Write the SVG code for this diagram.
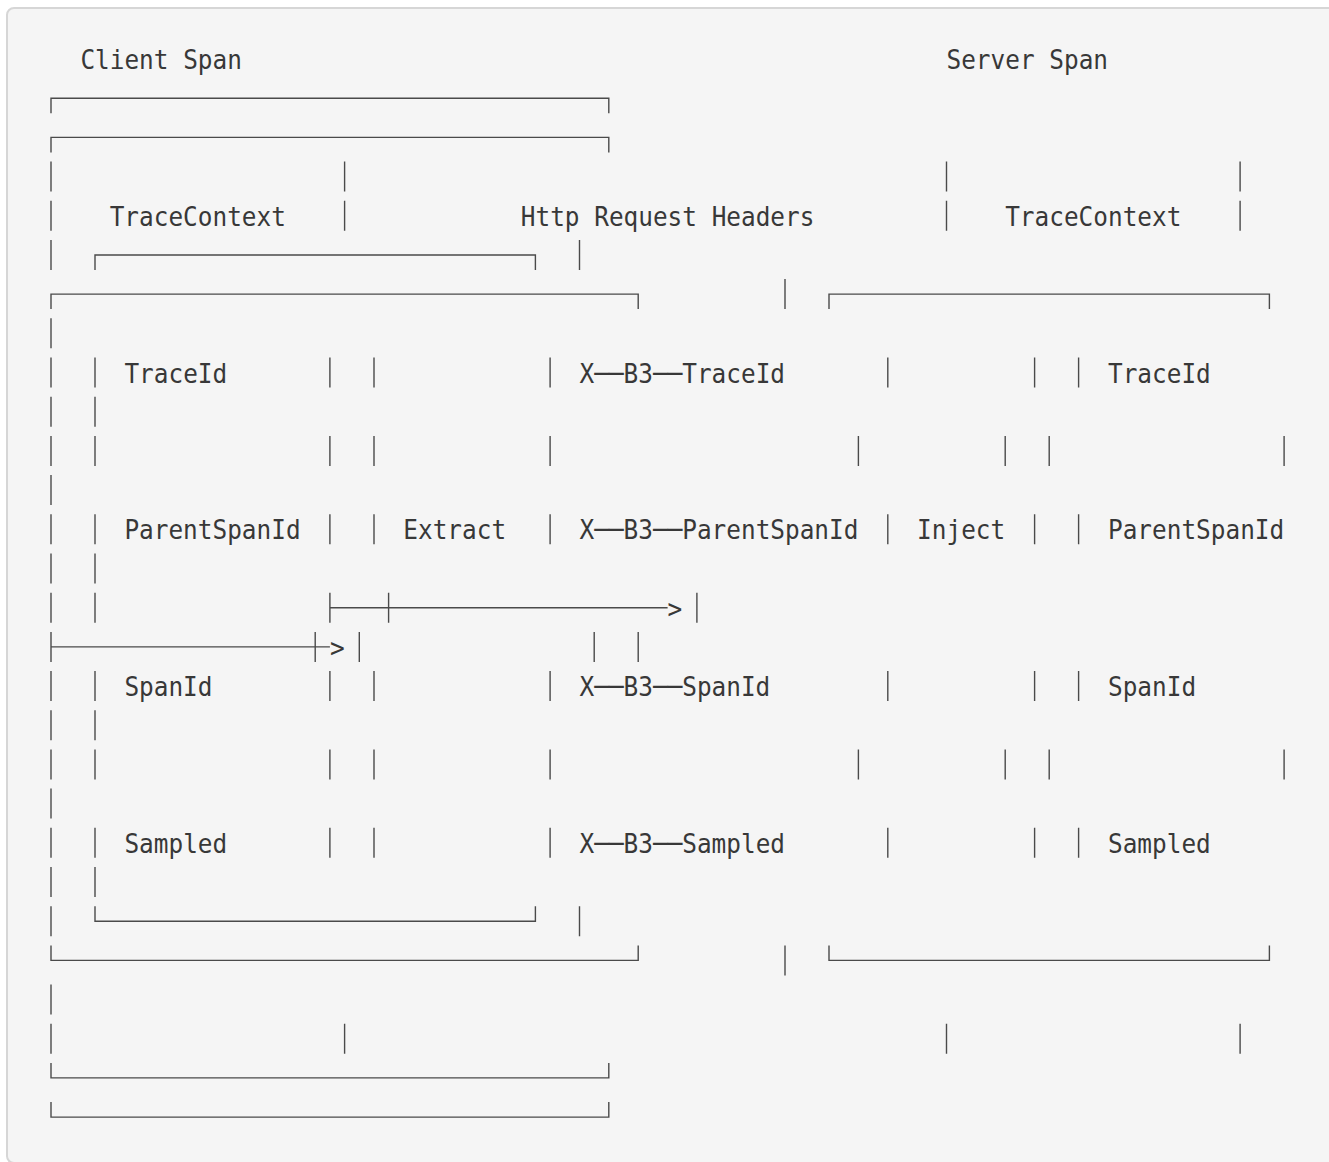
<svg xmlns="http://www.w3.org/2000/svg" width="1329" height="1162" viewBox="0 0 1329 1162">
<style>
.t{font-family:"DejaVu Sans Mono","Liberation Mono",monospace;font-size:27px;fill:#383838}
.ln{fill:none;stroke:#4a4a4a;stroke-width:1.4}
</style>
<rect x="7" y="8" width="1345" height="1155" rx="7" fill="#f5f5f5" stroke="#d6d6d6" stroke-width="2"/>
<g id="connectors" class="ln">
<path d="M51 113.2V98.2H608.8V113.2"/>
<path d="M51 152.4V137.4H608.8V152.4"/>
<path d="M51 161.6v30M344.6 161.6v30M946.5 161.6v30M1240.1 161.6v30"/>
<path d="M51 200.8v30M344.6 200.8v30M946.5 200.8v30M1240.1 200.8v30"/>
<path d="M51 240v30M95 270V255H535.4V270M579.5 240v30"/>
<path d="M51 309.1V294.1H638.2V309.1M785 279.1v30M829 309.1V294.1H1269.4V309.1"/>
<path d="M51 318.3v30"/>
<path d="M51 357.5v30M95 357.5v30M329.9 357.5v30M374 357.5v30M550.1 357.5v30M887.8 357.5v30M1034.6 357.5v30M1078.6 357.5v30"/>
<path d="M51 396.7v30M95 396.7v30"/>
<path d="M51 435.9v30M95 435.9v30M329.9 435.9v30M374 435.9v30M550.1 435.9v30M858.4 435.9v30M1005.2 435.9v30M1049.2 435.9v30M1284.1 435.9v30"/>
<path d="M51 475.1v30"/>
<path d="M51 514.3v30M95 514.3v30M329.9 514.3v30M374 514.3v30M550.1 514.3v30M887.8 514.3v30M1034.6 514.3v30M1078.6 514.3v30"/>
<path d="M51 553.5v30M95 553.5v30"/>
<path d="M51 592.7v30M95 592.7v30M329.9 592.7v30M388.6 592.7v30M329.9 607.7H667.6M696.9 592.7v30"/>
<path d="M51 631.9v30M51 646.9H329.9M315.2 631.9v30M359.3 631.9v30M594.2 631.9v30M638.2 631.9v30"/>
<path d="M51 671v30M95 671v30M329.9 671v30M374 671v30M550.1 671v30M887.8 671v30M1034.6 671v30M1078.6 671v30"/>
<path d="M51 710.2v30M95 710.2v30"/>
<path d="M51 749.4v30M95 749.4v30M329.9 749.4v30M374 749.4v30M550.1 749.4v30M858.4 749.4v30M1005.2 749.4v30M1049.2 749.4v30M1284.1 749.4v30"/>
<path d="M51 788.6v30"/>
<path d="M51 827.8v30M95 827.8v30M329.9 827.8v30M374 827.8v30M550.1 827.8v30M887.8 827.8v30M1034.6 827.8v30M1078.6 827.8v30"/>
<path d="M51 867v30M95 867v30"/>
<path d="M51 906.2v30M95 906.2V921.2H535.4V906.2M579.5 906.2v30"/>
<path d="M51 945.4V960.4H638.2V945.4M785 945.4v30M829 945.4V960.4H1269.4V945.4"/>
<path d="M51 984.6v30"/>
<path d="M51 1023.8v30M344.6 1023.8v30M946.5 1023.8v30M1240.1 1023.8v30"/>
<path d="M51 1062.9V1077.9H608.8V1062.9"/>
<path d="M51 1102.1V1117.1H608.8V1102.1"/>
</g>
<g id="arrows">
<text class="t" x="667.6" y="617.7" textLength="14.7" lengthAdjust="spacingAndGlyphs">&gt;</text>
<text class="t" x="329.9" y="656.9" textLength="14.7" lengthAdjust="spacingAndGlyphs">&gt;</text>
</g>
<g id="client-span">
<text class="t" x="80.4" y="69" textLength="161.5" lengthAdjust="spacingAndGlyphs">Client Span</text>
<text class="t" x="109.7" y="225.8" textLength="176.2" lengthAdjust="spacingAndGlyphs">TraceContext</text>
<text class="t" x="124.4" y="382.5" textLength="102.8" lengthAdjust="spacingAndGlyphs">TraceId</text>
<text class="t" x="124.4" y="539.3" textLength="176.2" lengthAdjust="spacingAndGlyphs">ParentSpanId</text>
<text class="t" x="124.4" y="696" textLength="88.1" lengthAdjust="spacingAndGlyphs">SpanId</text>
<text class="t" x="124.4" y="852.8" textLength="102.8" lengthAdjust="spacingAndGlyphs">Sampled</text>
</g>
<g id="extract">
<text class="t" x="403.3" y="539.3" textLength="102.8" lengthAdjust="spacingAndGlyphs">Extract</text>
</g>
<g id="http-request-headers">
<text class="t" x="520.8" y="225.8" textLength="293.6" lengthAdjust="spacingAndGlyphs">Http Request Headers</text>
<text class="t" x="579.5" y="382.5" textLength="205.5" lengthAdjust="spacingAndGlyphs">X──B3──TraceId</text>
<text class="t" x="579.5" y="539.3" textLength="278.9" lengthAdjust="spacingAndGlyphs">X──B3──ParentSpanId</text>
<text class="t" x="579.5" y="696" textLength="190.8" lengthAdjust="spacingAndGlyphs">X──B3──SpanId</text>
<text class="t" x="579.5" y="852.8" textLength="205.5" lengthAdjust="spacingAndGlyphs">X──B3──Sampled</text>
</g>
<g id="inject">
<text class="t" x="917.1" y="539.3" textLength="88.1" lengthAdjust="spacingAndGlyphs">Inject</text>
</g>
<g id="server-span">
<text class="t" x="946.5" y="69" textLength="161.5" lengthAdjust="spacingAndGlyphs">Server Span</text>
<text class="t" x="1005.2" y="225.8" textLength="176.2" lengthAdjust="spacingAndGlyphs">TraceContext</text>
<text class="t" x="1108" y="382.5" textLength="102.8" lengthAdjust="spacingAndGlyphs">TraceId</text>
<text class="t" x="1108" y="539.3" textLength="176.2" lengthAdjust="spacingAndGlyphs">ParentSpanId</text>
<text class="t" x="1108" y="696" textLength="88.1" lengthAdjust="spacingAndGlyphs">SpanId</text>
<text class="t" x="1108" y="852.8" textLength="102.8" lengthAdjust="spacingAndGlyphs">Sampled</text>
</g>
</svg>
